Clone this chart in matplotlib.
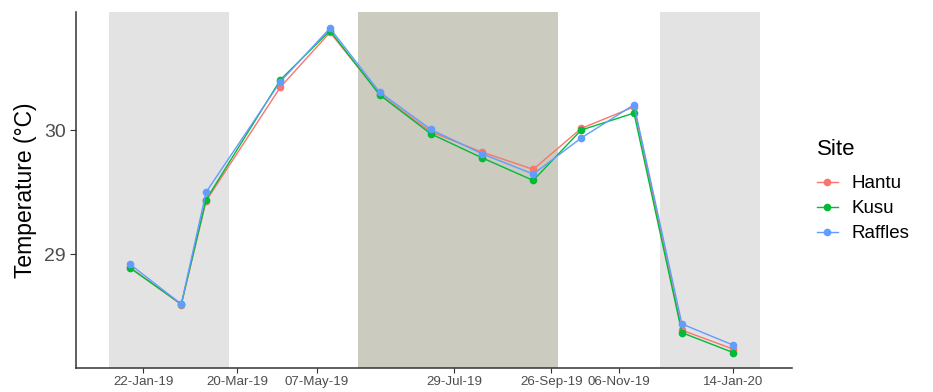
import matplotlib
matplotlib.use("Agg")
import matplotlib.pyplot as plt
import pandas as pd

# Monthly mean sea temperature at three sites
dates = pd.to_datetime([
    "2019-01-14", "2019-02-14", "2019-03-01", "2019-04-15", "2019-05-15",
    "2019-06-14", "2019-07-15", "2019-08-15", "2019-09-15", "2019-10-14",
    "2019-11-15", "2019-12-14", "2020-01-14",
])
hantu = [28.895, 28.595, 29.43, 30.346, 30.786, 30.29, 29.986, 29.823,
         29.684, 30.013, 30.187, 28.39, 28.238]
kusu = [28.89, 28.60, 29.44, 30.405, 30.80, 30.284, 29.97, 29.777,
        29.595, 30.0, 30.137, 28.37, 28.21]
raffles = [28.92, 28.60, 29.50, 30.39, 30.82, 30.306, 30.005, 29.81,
           29.646, 29.936, 30.204, 28.44, 28.27]

sites = ["Hantu", "Kusu", "Raffles"]
series = [hantu, kusu, raffles]
colors = ["#F8766D", "#00BA38", "#619CFF"]

# Monsoon periods (start, end, fill colour)
season_starts = pd.to_datetime(["2019-01-01", "2019-06-01", "2019-12-01"])
season_ends = pd.to_datetime(["2019-03-15", "2019-09-30", "2020-01-30"])
season_colors = ["#E3E3E3", "#CBCBBF", "#E3E3E3"]

tick_dates = pd.to_datetime(["2019-01-22", "2019-03-20", "2019-05-07",
                             "2019-07-29", "2019-09-26", "2019-11-06",
                             "2020-01-14"])
tick_labels = ["22-Jan-19", "20-Mar-19", "07-May-19", "29-Jul-19",
               "26-Sep-19", "06-Nov-19", "14-Jan-20"]
y_ticks = [29, 30]

plt.rcParams["font.family"] = ["Liberation Sans", "DejaVu Sans"]

fig = plt.figure(figsize=(9.33, 3.92), dpi=100)
ax = fig.add_axes([0.0815, 0.061, 0.7675, 0.908])

for s, e, c in zip(season_starts, season_ends, season_colors):
    ax.axvspan(s, e, color=c, lw=0, zorder=0)

for name, vals, col in zip(sites, series, colors):
    ax.plot(dates, vals, color=col, lw=1.0, marker="o", ms=4.5,
            mec=col, mfc=col, label=name, zorder=3)

x0 = season_starts.min()
x1 = season_ends.max()
pad = (x1 - x0) * 0.05
ax.set_xlim(x0 - pad, x1 + pad)
ax.set_ylim(28.085, 30.949)

ax.set_xticks(tick_dates)
ax.set_xticklabels(tick_labels)
ax.set_yticks(y_ticks)
ax.set_yticklabels([str(v) for v in y_ticks])
ax.tick_params(axis="x", labelsize=9.6, colors="#333333", labelcolor="#4D4D4D",
               length=3.5, width=0.8, pad=2)
ax.tick_params(axis="y", labelsize=14, colors="#333333", labelcolor="#4D4D4D",
               length=4, width=0.8, pad=3.5)

for side in ["top", "right"]:
    ax.spines[side].set_visible(False)
for side in ["left", "bottom"]:
    ax.spines[side].set_color("#333333")
    ax.spines[side].set_linewidth(1.1)

ax.set_ylabel("Temperature (°C)", fontsize=16.5, color="black", labelpad=5)

leg = ax.legend(title="Site", loc="upper left",
                bbox_to_anchor=(817 / 933, 1 - 139 / 392),
                bbox_transform=fig.transFigure, frameon=False,
                fontsize=13.5, title_fontsize=16, handlelength=1.1,
                handletextpad=0.75, labelspacing=0.42, borderpad=0,
                borderaxespad=0)
leg._legend_box.align = "left"
leg._legend_box.sep = 11

fig.savefig("out.png", dpi=100)
